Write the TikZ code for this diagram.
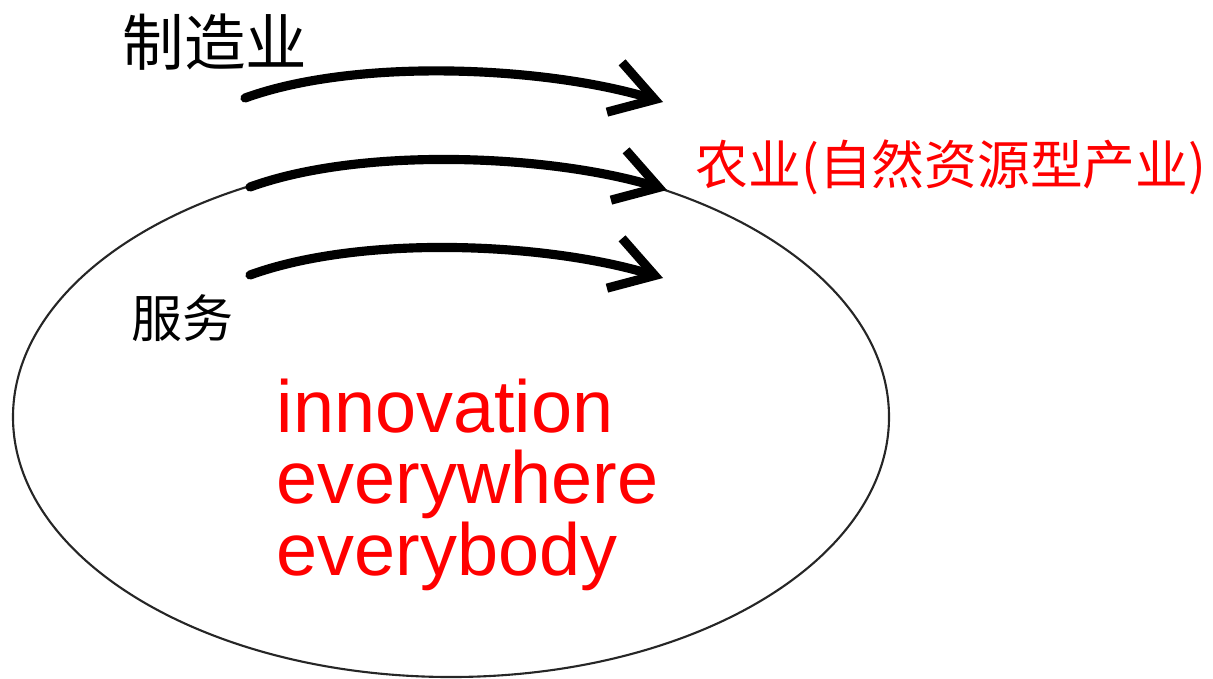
\documentclass[tikz,border=0pt]{standalone}
\usepackage{fontspec}
\setmainfont{Liberation Sans}
\newfontfamily\cjk{Noto Sans CJK SC}
\usetikzlibrary{arrows.meta}

\begin{document}
\begin{tikzpicture}[
    x=0.01cm, y=-0.01cm,
    arr/.style    = {line width=2.6pt, line cap=round,
                     -{Straight Barb[length=0.42cm, width=0.52cm]}},
    ring/.style   = {draw=black!85, line width=0.6pt},
    lbl/.style    = {inner sep=0pt, font=\cjk},
    lblred/.style = {inner sep=0pt, font=\cjk, text=red},
    motto/.style  = {inner sep=0pt, align=left, text=red,
                     font=\fontsize{21pt}{20.2pt}\selectfont},
]
\useasboundingbox (0,0) rectangle (1213,678);

% --- Elipse ---
\draw[ring] (451,417) ellipse [x radius=438, y radius=260];

% --- Etiquetas ---
\node[lbl, font=\cjk\fontsize{17.5pt}{20pt}\selectfont] (manuf) at (215,42) {制造业};
\node[lbl, font=\cjk\fontsize{14.5pt}{17pt}\selectfont] (serv) at (182,318) {服务};
\node[lblred, font=\cjk\fontsize{15pt}{18pt}\selectfont, anchor=west] (agri) at (695,167) {农业(自然资源型产业)};
\node[motto, anchor=base west] (innov) at (276,575) {innovation\\everywhere\\everybody};

% --- Puntos de las flechas ---
\coordinate (s1) at (245,98);
\coordinate (e1) at (663,102);
\coordinate (s2) at (250,187);
\coordinate (e2) at (667,190);
\coordinate (s3) at (250,275);
\coordinate (e3) at (663,278);

% --- Flechas ---
\draw[arr] (s1) .. controls +(113,-41) and +(-115,-35) .. (e1);
\draw[arr] (s2) .. controls +(113,-41) and +(-115,-35) .. (e2);
\draw[arr] (s3) .. controls +(113,-41) and +(-115,-35) .. (e3);

\end{tikzpicture}
\end{document}
